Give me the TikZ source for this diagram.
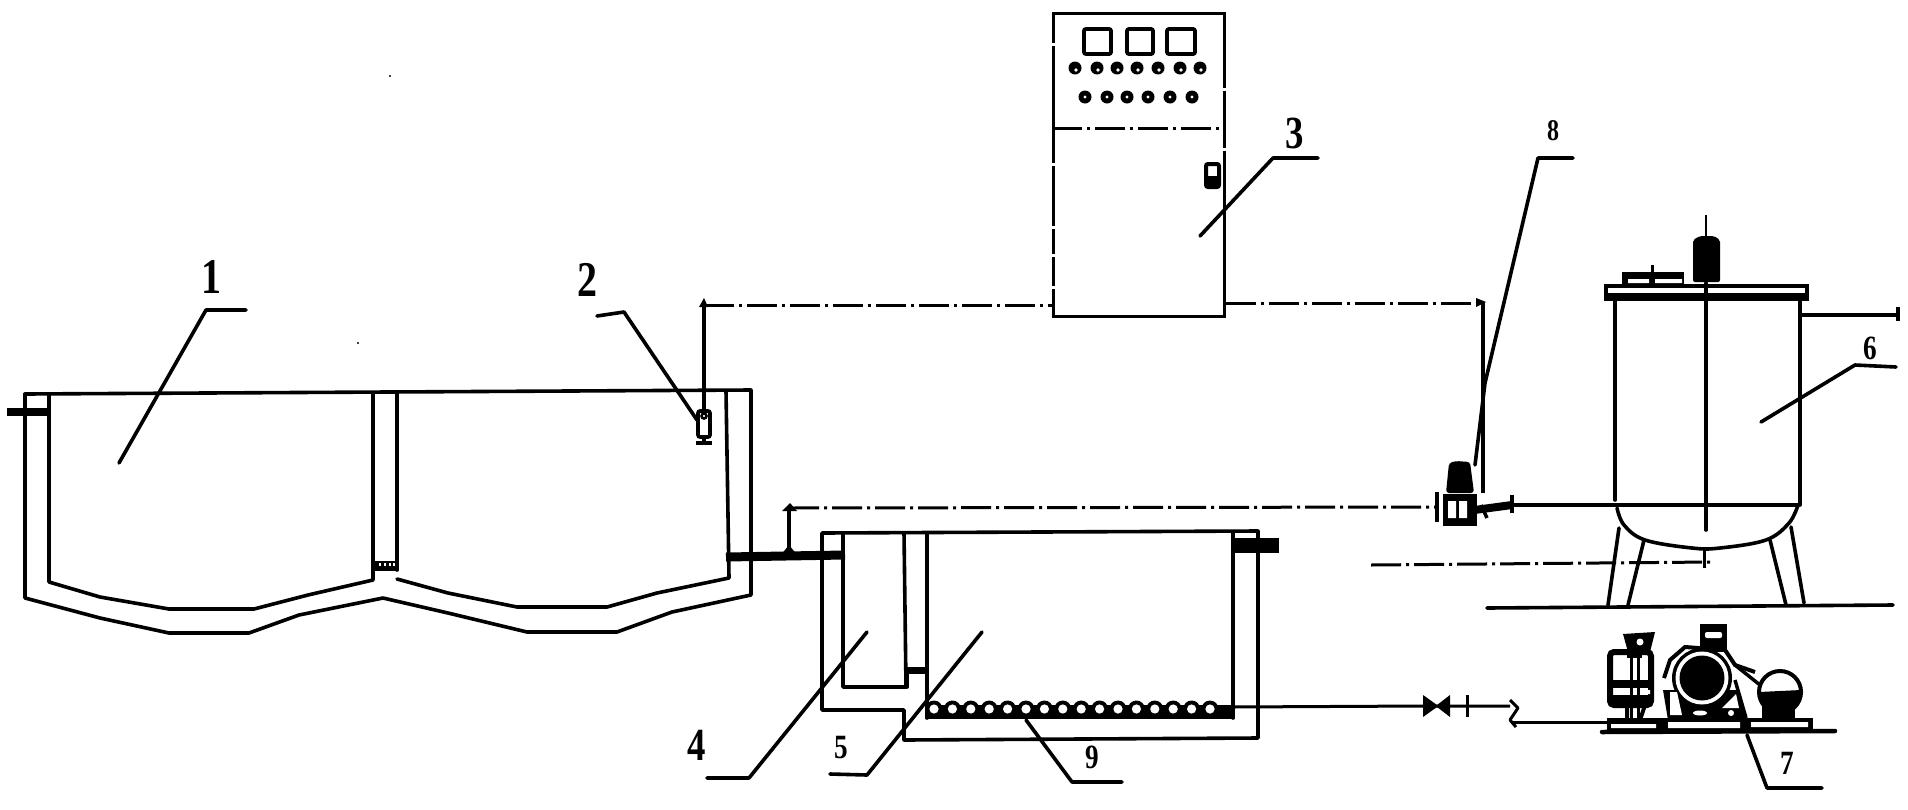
\documentclass[tikz,border=0pt]{standalone}
\usepackage{fontspec}
\setmainfont{Liberation Serif}
\newcommand{\numtext}[1]{\scalebox{0.8}[1]{#1}}
\tikzset{
  wall/.style={line width=3.6pt,line join=round,line cap=round},
  thin wall/.style={line width=2.8pt,line join=round,line cap=round},
  leader/.style={line width=3.6pt,line join=round,line cap=round},
  signal/.style={line width=3pt,dash pattern=on 30pt off 5pt on 3pt off 5pt},
  airline/.style={line width=3pt,line join=round},
  pipe/.style={line width=9pt},
  blob/.style={fill=black,circle,inner sep=0pt,minimum size=13pt},
  num/.style={inner sep=0pt,font=\bfseries\fontsize{#1}{#1}\selectfont},
  num/.default=44
}
\begin{document}
\begin{tikzpicture}[x=1pt,y=-1pt]
\useasboundingbox[fill=white] (0,0) rectangle (1908,809);
% specks
\fill (390,76) circle (1.2pt) (358,343) circle (1.2pt);

% ---------- tank 1
\draw[wall] (25,394) -- (751,390) -- (751,595) -- (672,612) -- (617,632) -- (527,632) -- (448,613) -- (383,598) -- (299,615) -- (249,633) -- (169,633) -- (100,618) -- (25,598) -- cycle;
\draw[wall] (49,394) -- (49,582) -- (100,597) -- (169,609) -- (254,609) -- (308,595) -- (373,580) -- (373,393);
\draw[wall] (397,392) -- (397,570);
\draw[wall] (397,579) -- (448,593) -- (517,607) -- (607,607) -- (657,593) -- (729,578) -- (726,391);
\fill (373,561) rectangle (398,571);
\foreach \x in {379,384,389,393} \fill[white] (\x,563) rectangle +(2,3);
% left outlet stub
\draw[line width=8pt] (7,412) -- (49,412);
\fill[white] (30,398) rectangle (45,407);
\draw[wall] (25,394) -- (25,412);
% right pipe tank 1 to tank 4
\coordinate (pipeA) at (726,557);
\coordinate (pipeB) at (845,555);
\draw[pipe] (pipeA) -- (pipeB);
\fill (789,545) -- (798,556) -- (780,556) -- cycle;

% ---------- level sensor 2
\node[draw,line width=3.6pt,fill=white,rounded corners=2pt,minimum width=12pt,minimum height=26pt,inner sep=0pt] (sensor) at (704,424) {};
\fill[white,draw=black,line width=2.5pt] (704,416) circle (2.5pt);
\draw[line width=3.6pt] (696,443) -- (712,443) (704,437) -- (704,443);
\coordinate (sensorTop) at (704,305);
\draw[wall] (sensor.north) -- (sensorTop);
\fill (699,307) -- (704,298) -- (708,307) -- cycle;

% ---------- control box 3
\node[draw,line width=3.2pt,minimum width=171pt,minimum height=303pt,inner sep=0pt,anchor=north west] (ctrl) at (1052,12) {};
\foreach \y in {43,163,226,254,286} \fill[white] (1049,\y) rectangle +(7,3);
\foreach \y in {88,148} \fill[white] (1220,\y) rectangle +(7,3);
\draw[signal] (ctrl.west |- 0,128) -- (ctrl.east |- 0,128);
\foreach \xa/\xb in {1084/1111,1127/1153,1167/1195}
  \draw[line width=3.8pt,rounded corners=2pt] (\xa,29) rectangle (\xb,54);
\foreach \x in {1075,1097,1117,1137,1158,1180,1200} {\node[blob] at (\x,68) {}; \fill[white] (\x+1,70) circle (1.8pt);}
\foreach \x in {1085,1107,1127,1148,1170,1192} {\node[blob] at (\x,97) {}; \fill[white] (\x,97) circle (1.6pt);}
\draw[line width=4pt,rounded corners=2pt] (1206,164) rectangle (1219,187);
\fill (1206,176) rectangle (1219,188);
% signal lines
\draw[signal] (sensorTop) -- (ctrl.west |- sensorTop);
\coordinate (sigR) at (1483,303);
\draw[signal] (ctrl.east |- sigR) -- (sigR);
\fill (1476,298) -- (1486,302) -- (1476,307) -- cycle;

% ---------- pump 8
\coordinate (pumpTop) at (1483,493);
\draw[line width=4.5pt] (sigR) -- (pumpTop);
\fill[rounded corners=3pt] (1446,493) -- (1449,463) -- (1456,461) -- (1470,462) -- (1474,493) -- cycle;
\node[draw,line width=3.5pt,fill=black,minimum width=30pt,minimum height=28pt,inner sep=0pt,anchor=north west] (pump) at (1443,494) {};
\fill[white] (1448,501) rectangle (1456,518) (1459,501) rectangle (1467,518);
\draw[line width=4.5pt] (1437,492) -- (1437,522);
\draw[line width=8pt] (pump.east) -- (1512,505);
\draw[line width=4pt] (1512,495) -- (1512,513);
\draw[line width=3.5pt] (1481,505) -- (1487,518);
% dash-dot pipe to pump
\coordinate (feedCorner) at (789,508);
\draw[signal] (feedCorner) -- (1437,507);
\draw[line width=4.5pt] (789,547) -- (feedCorner);
\fill (782,511) -- (790,503) -- (797,511) -- cycle;

% ---------- tank 6
\coordinate (mixTop) at (1706,215);
\fill[rounded corners=2pt] (1693,282) -- (1693,240) -- (1700,236) -- (1714,236) -- (1720,240) -- (1720,282) -- cycle;
\draw[line width=2.5pt] (mixTop) -- (1706,240);
\draw[wall] (1706,283) -- (1706,530);
\fill (1622,272) rectangle (1684,284);
\fill[white] (1628,279) rectangle (1649,283) (1655,279) rectangle (1682,283);
\draw[line width=3pt] (1652,265) -- (1652,284);
\draw[line width=3.5pt] (1606,286) rectangle (1807,299);
\fill (1606,293) rectangle (1807,301);
\fill[white] (1610,288) rectangle (1640,291) (1645,288) rectangle (1700,291) (1712,288) rectangle (1803,291);
\draw[wall] (1615,300) -- (1615,500);
\draw[wall] (1800,300) -- (1800,505);
\draw[wall] (1512,505) -- (1798,505);
\draw[wall] plot[smooth,tension=0.6] coordinates {(1617,508) (1624,525) (1645,540) (1692,548) (1720,548) (1766,540) (1789,523) (1798,505)};
\draw[wall] (1619,528) -- (1608,605);
\draw[wall] (1644,540) -- (1628,605);
\draw[wall] (1770,540) -- (1786,605);
\draw[wall] (1791,527) -- (1804,603);
\draw[wall] (1487,608) -- (1893,605);
\coordinate (heatEnd) at (1712,562);
\draw[signal] (1371,565) -- (heatEnd);
\draw[line width=3pt] (1704,548) -- (1704,568);
\draw[line width=3.5pt] (1800,315) -- (1896,315);
\draw[line width=4.5pt] (1898,307) -- (1898,321);

% ---------- tanks 4 / 5
\draw[wall] (822,533) -- (1258,531) -- (1258,738) -- (904,740) -- (904,710) -- (822,710) -- cycle;
\draw[wall] (843,533) -- (843,687) -- (906,687) -- (904,533);
\draw[wall] (927,533) -- (927,718);
\draw[wall] (1233,533) -- (1233,718);
\fill (907,667) rectangle (929,674);
\draw[wall] (907,673) -- (907,687);
\foreach \x in {934,952.4,970.8,989.2,1007.6,1026,1044.4,1062.8,1081.2,1099.6,1118,1136.4,1154.8,1173.2,1191.6,1210}
  \fill (\x,709) circle (8.5pt);
\fill (927,705) rectangle (1233,719);
\foreach \x in {934,952.4,970.8,989.2,1007.6,1026,1044.4,1062.8,1081.2,1099.6,1118,1136.4,1154.8,1173.2,1191.6,1210}
  \fill[white] (\x,709) circle (4.6pt);
% right stub
\fill (1233,538) rectangle (1279,553);
\fill[white] (1240,534) rectangle (1256,537);
\draw[thin wall] (1233,533) -- (1233,555);

% ---------- air line
\coordinate (airStart) at (1233,707);
\coordinate (valveL) at (1423,706);
\coordinate (airBreak) at (1510,706);
\draw[airline] (airStart) -- (valveL) -- (airBreak);
\fill (1423,695) -- (1437,705) -- (1450,695) -- (1450,717) -- (1437,707) -- (1423,717) -- cycle;
\draw[line width=3pt] (1467,695) -- (1467,717);
\draw[airline] (1510,700) -- (1518,708) -- (1510,720) -- (1516,727);
\coordinate (airEnd) at (1613,722);
\draw[airline] (1512,722) -- (airEnd);

% ---------- compressor 7
\draw[line width=4.5pt,line cap=round] (1602,732) -- (1835,731);
\fill (1607,718) rectangle (1813,732);
\fill[white] (1611,724) rectangle (1656,728) (1668,722) rectangle (1740,728) (1751,722) rectangle (1808,727);
% receiver
\draw[line width=6pt,rounded corners=4pt,fill=white] (1610,652) rectangle (1651,705);
\fill (1623,634) -- (1655,632) -- (1650,652) -- (1628,652) -- cycle;
\fill[white] (1640,642) circle (3.5pt);
\draw[line width=3pt] (1631,657) -- (1631,720) (1638,657) -- (1638,720);
\draw[line width=3pt] (1627,656) -- (1642,656);
\fill (1610,680) rectangle (1651,688);
\fill (1610,695) rectangle (1651,706);
\fill[white] (1615,690) rectangle (1626,694) (1641,690) rectangle (1650,694);
\draw[line width=4pt] (1627,705) -- (1627,720) (1645,705) -- (1640,720);
% motor
\fill (1700,624) rectangle (1727,652);
\fill[white,rounded corners=2pt] (1705,632) rectangle (1722,638);
\fill (1663,690) -- (1668,720) -- (1745,720) -- (1738,690) -- cycle;
\draw[line width=4pt] (1664,678) -- (1670,660) -- (1685,647) -- (1725,650) -- (1735,665) -- (1755,672);
\fill (1702,678) circle (30pt);
\fill[white] (1702,678) circle (26.5pt);
\fill (1702,678) circle (22.5pt);
\fill[white] (1670,692) -- (1677,692) -- (1682,715) -- (1670,715) -- cycle;
\fill[white] (1700,713) ellipse (7pt and 2.5pt);
\fill[white] (1722,708) -- (1736,694) -- (1739,708) -- cycle;
\draw[line width=3.5pt] (1735,665) -- (1760,685);
\draw[line width=3.5pt] (1735,680) -- (1746,718);
\fill[white] (1731,713) circle (3pt);
% right wheel
\fill[white,draw=black,line width=4pt] (1780,692) circle (21pt);
\fill (1759,692) -- (1801,690) arc (0:-180:21pt) -- cycle;
\fill (1762,706) rectangle (1795,718);
\fill[white] (1755,713) circle (3pt);

% ---------- leaders
\node[num=50] (n1) at (211,277) {\numtext{1}};
\coordinate (a1) at (119,463); \coordinate (b1) at (206,310); \coordinate (c1) at (246,310);
\draw[leader] (a1) -- (b1) -- (c1);
\node[num=50] (n2) at (587,280) {\numtext{2}};
\coordinate (a2) at (697,420); \coordinate (b2) at (624,312); \coordinate (c2) at (597,316);
\draw[leader] (a2) -- (b2) -- (c2);
\node[num=46] (n3) at (1295,133) {\numtext{3}};
\coordinate (a3) at (1200,236); \coordinate (b3) at (1273,158); \coordinate (c3) at (1318,158);
\draw[leader] (a3) -- (b3) -- (c3);
\node[num=46] (n4) at (697,745) {\numtext{4}};
\coordinate (a4) at (867,632); \coordinate (b4) at (749,778); \coordinate (c4) at (707,778);
\draw[leader] (a4) -- (b4) -- (c4);
\node[num=34] (n5) at (841,748) {\numtext{5}};
\coordinate (a5) at (982,632); \coordinate (b5) at (867,775); \coordinate (c5) at (830,774);
\draw[leader] (a5) -- (b5) -- (c5);
\node[num=34] (n6) at (1870,348) {\numtext{6}};
\coordinate (a6) at (1761,422); \coordinate (b6) at (1855,365); \coordinate (c6) at (1896,367);
\draw[leader] (a6) -- (b6) -- (c6);
\node[num=34] (n7) at (1787,763) {\numtext{7}};
\coordinate (a7) at (1747,735); \coordinate (b7) at (1767,788); \coordinate (c7) at (1822,788);
\draw[leader] (a7) -- (b7) -- (c7);
\node[num=30] (n8) at (1553,131) {\numtext{8}};
\coordinate (a8) at (1475,465); \coordinate (m8) at (1485,383); \coordinate (b8) at (1538,158); \coordinate (c8) at (1573,158);
\draw[leader] (a8) -- (m8) -- (b8) -- (c8);
\node[num=34] (n9) at (1092,757) {\numtext{9}};
\coordinate (a9) at (1026,720); \coordinate (b9) at (1072,782); \coordinate (c9) at (1122,782);
\draw[leader] (a9) -- (b9) -- (c9);
\end{tikzpicture}
\end{document}
